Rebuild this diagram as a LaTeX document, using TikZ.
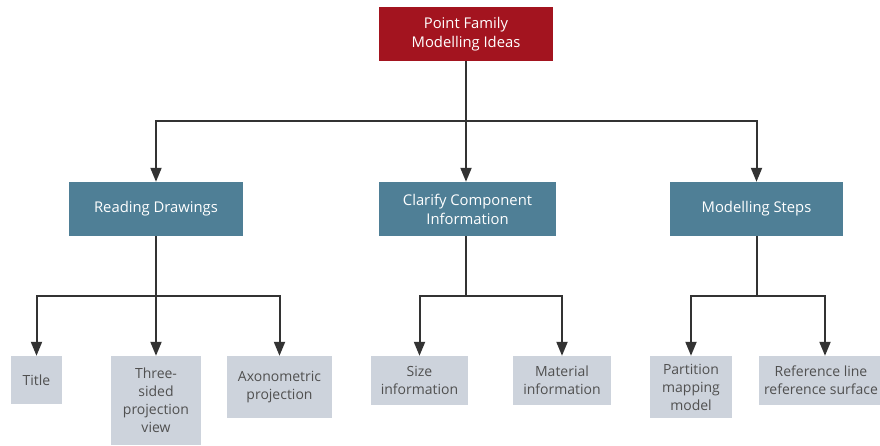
\documentclass[tikz,border=0pt]{standalone}
\usepackage{fontspec}
\setmainfont{Open Sans}
\usetikzlibrary{arrows.meta}
\definecolor{rootred}{HTML}{A3141F}
\definecolor{teal1}{HTML}{4F7F96}
\definecolor{greybox}{HTML}{CDD3DC}
\definecolor{greytext}{HTML}{505050}
\definecolor{linec}{HTML}{333333}
\tikzset{
  rootbox/.style={fill=rootred, text=white, draw=none, align=center, inner sep=0pt, font=\fontsize{14.8}{19}\selectfont},
  midbox/.style={fill=teal1, text=white, draw=none, align=center, inner sep=0pt, font=\fontsize{14.8}{19}\selectfont},
  leafbox/.style={fill=greybox, text=greytext, draw=none, align=center, inner sep=0pt, font=\fontsize{14}{18}\selectfont},
  conn/.style={draw=linec, line width=2pt},
  arr/.style={conn, -{Triangle[width=11pt,length=14pt]}},
}
\begin{document}
\begin{tikzpicture}[x=1pt,y=-1pt]
\useasboundingbox (0,0) rectangle (880,446);
% level 0
\node[rootbox, minimum width=174pt, minimum height=54pt] (root) at (466,34) {Point Family\\Modelling Ideas};
% level 1
\node[midbox, minimum width=174pt, minimum height=54pt] (read) at (156,209) {Reading Drawings};
\node[midbox, minimum width=177pt, minimum height=54pt] (clar) at (467.5,209) {Clarify Component\\Information};
\node[midbox, minimum width=173pt, minimum height=54pt] (model) at (756.5,209) {Modelling Steps};
% level 2
\node[leafbox, minimum width=51pt, minimum height=48pt] (title) at (36.5,380) {Title};
\node[leafbox, minimum width=90pt, minimum height=89pt] (three) at (156,400.5) {Three-\\sided\\projection\\view};
\node[leafbox, minimum width=105pt, minimum height=62pt] (axo) at (279.5,387) {Axonometric\\projection};
\node[leafbox, minimum width=97pt, minimum height=49pt] (size) at (419.5,380.5) {Size\\information};
\node[leafbox, minimum width=98pt, minimum height=49pt] (mat) at (562,380.5) {Material\\information};
\node[leafbox, minimum width=82pt, minimum height=62pt] (part) at (691,387) {Partition\\mapping\\model};
\node[leafbox, minimum width=124pt, minimum height=49pt] (ref) at (821,380.5) {Reference line\\reference surface};
% junctions
\coordinate (j0) at (466,121);
\coordinate (j1) at (156,296);
\coordinate (j2) at (466,296);
\coordinate (j3) at (757,296);
% connectors
\draw[conn] (root.south) -- (j0);
\draw[arr] (j0) -| (read.north);
\draw[arr] (j0) -- (clar.north -| j0);
\draw[arr] (j0) -| (model.north);
\draw[conn] (read.south) -- (j1);
\draw[arr] (j1) -| (title.north);
\draw[arr] (j1) -- (three.north);
\draw[arr] (j1) -| (axo.north);
\draw[conn] (clar.south -| j2) -- (j2);
\draw[arr] (j2) -| (size.north);
\draw[arr] (j2) -| (mat.north);
\draw[conn] (model.south -| j3) -- (j3);
\draw[arr] (j3) -| (part.north);
\draw[arr] (j3) -| (ref.north -| 825,0);
\end{tikzpicture}
\end{document}
